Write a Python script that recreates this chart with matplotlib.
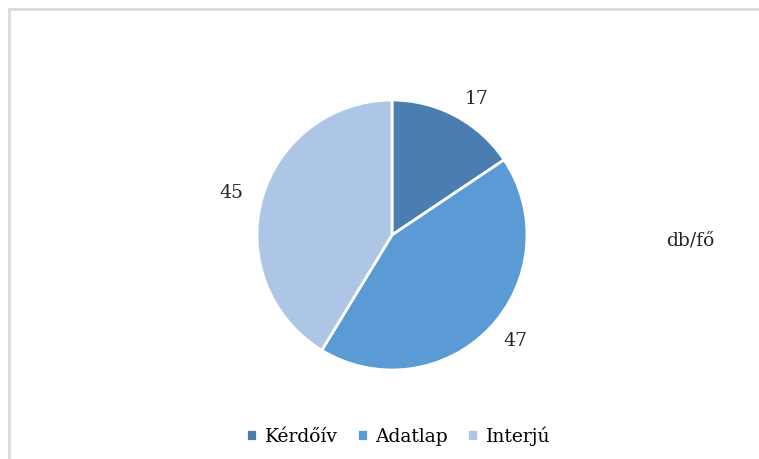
import matplotlib.pyplot as plt
from matplotlib.patches import Rectangle

categories = ["Kérdőív", "Adatlap", "Interjú"]
values = [17, 47, 45]
colors = ["#4a7eb0", "#5b9bd5", "#aec6e5"]
unit_label = "db/fő"

plt.rcParams["font.family"] = ["DejaVu Serif"]

fig = plt.figure(figsize=(7.59, 4.59), dpi=100)
fig.patches.append(Rectangle((9 / 759, -0.1), 2.0, 1 - 9 / 459 + 0.1, transform=fig.transFigure,
                             fill=False, edgecolor="#d9d9d9", linewidth=2, zorder=0))

ax = fig.add_axes([(392 - 135) / 759, (459 - 235 - 135) / 459, 270 / 759, 270 / 459])
wedges, texts = ax.pie(values, colors=colors, startangle=90, counterclock=False,
                       labels=[str(v) for v in values], labeldistance=1.14,
                       wedgeprops=dict(edgecolor="white", linewidth=2),
                       textprops=dict(fontsize=13.5, color="#262626"))
ax.set_xlim(-1, 1)
ax.set_ylim(-1, 1)
ax.set_aspect("equal")

fig.text(690 / 759, 1 - 241 / 459, unit_label, fontsize=13.5, color="#262626",
         ha="center", va="center")

fig.legend(wedges, categories, loc="center", bbox_to_anchor=(398 / 759, 1 - 436 / 459),
           ncol=3, frameon=False, fontsize=13.5, handlelength=0.6, handleheight=0.6,
           handletextpad=0.4, columnspacing=1.0)

fig.savefig("out.png", dpi=100)
